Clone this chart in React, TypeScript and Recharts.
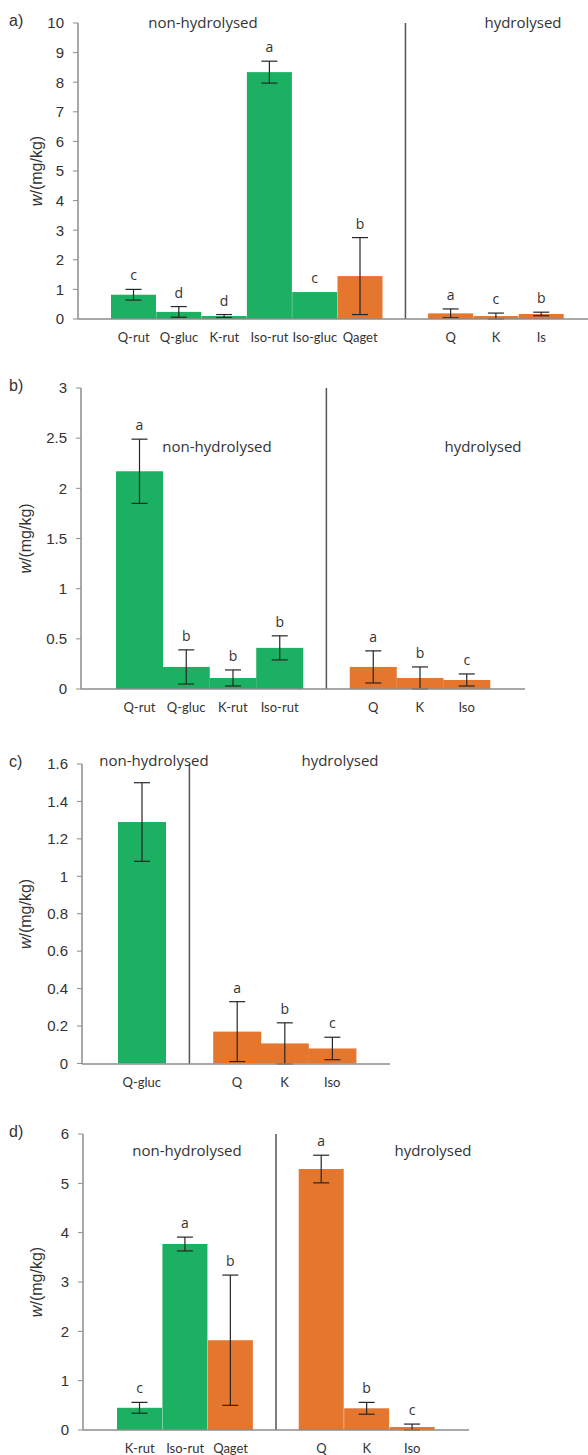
import React from 'react';
import { BarChart, Bar, XAxis, YAxis, ErrorBar, ReferenceLine } from 'recharts';

const GREEN = '#1bb062';
const ORANGE = '#e5762e';
const AXIS = '#8c8c8c';
const TEXT = '#333333';
const GAP = 'gap';

// aglycones are orange, glycosides green
const aglycones = ['Qaget', 'Q', 'K', 'Is', 'Iso'];

// a)
const catsA = ['Q-rut', 'Q-gluc', 'K-rut', 'Iso-rut', 'Iso-gluc', 'Qaget', GAP, 'Q', 'K', 'Is'];
const valsA = [0.82, 0.24, 0.1, 8.34, 0.91, 1.45, null, 0.19, 0.1, 0.17];
const errsA = [0.18, 0.18, 0.05, 0.37, null, 1.3, null, 0.15, 0.1, 0.06];
const lettersA = ['c', 'd', 'd', 'a', 'c', 'b', '', 'a', 'c', 'b'];
const ticksA = [0, 1, 2, 3, 4, 5, 6, 7, 8, 9, 10];

// b)
const catsB = ['Q-rut', 'Q-gluc', 'K-rut', 'Iso-rut', GAP, 'Q', 'K', 'Iso'];
const valsB = [2.17, 0.22, 0.11, 0.41, null, 0.22, 0.11, 0.09];
const errsB = [0.32, 0.17, 0.08, 0.12, null, 0.16, 0.11, 0.06];
const lettersB = ['a', 'b', 'b', 'b', '', 'a', 'b', 'c'];
const ticksB = [0, 0.5, 1, 1.5, 2, 2.5, 3];

// c)
const catsC = ['Q-gluc', GAP, 'Q', 'K', 'Iso'];
const valsC = [1.29, null, 0.17, 0.107, 0.08];
const errsC = [0.21, null, 0.16, 0.11, 0.06];
const lettersC = ['', '', 'a', 'b', 'c'];
const ticksC = [0, 0.2, 0.4, 0.6, 0.8, 1, 1.2, 1.4, 1.6];

// d)
const catsD = ['K-rut', 'Iso-rut', 'Qaget', GAP, 'Q', 'K', 'Iso'];
const valsD = [0.45, 3.77, 1.82, null, 5.29, 0.44, 0.06];
const errsD = [0.11, 0.14, 1.32, null, 0.28, 0.12, 0.06];
const lettersD = ['c', 'a', 'b', '', 'a', 'b', 'c'];
const ticksD = [0, 1, 2, 3, 4, 5, 6];

const build = (cats: string[], vals: (number | null)[], errs: (number | null)[], letters: string[]) =>
  cats.map((name, i) => ({ name, v: vals[i], e: errs[i], letter: letters[i] }));

const renderBar = (p: any) => {
  const { x, y, width, height, payload } = p;
  if (payload.v == null) return <g />;
  const fill = aglycones.includes(payload.name) ? ORANGE : GREEN;
  const perUnit = payload.v ? height / payload.v : 0;
  const top = y - (payload.e || 0) * perUnit;
  return (
    <g>
      <rect x={x} y={y} width={width} height={height} fill={fill} />
      {payload.letter ? (
        <text
          x={x + width / 2}
          y={top - 9}
          textAnchor="middle"
          fontSize={14}
          fontFamily="Open Sans"
          fill={TEXT}
        >
          {payload.letter}
        </text>
      ) : null}
    </g>
  );
};

type PanelProps = {
  tag: string;
  data: any[];
  ticks: number[];
  top: number;
  height: number;
  xHeight: number;
  marginTop: number;
  axisX: number;
  marginRight: number;
  padLeft: number;
  padRight: number;
  labelX: number;
  heads: { text: string; x: number; y: number }[];
};

const Panel = (p: PanelProps) => {
  const max = p.ticks[p.ticks.length - 1];
  const yLabel = (props: any) => {
    const vb = props.viewBox;
    const cy = vb.y + vb.height / 2;
    return (
      <text
        x={p.labelX}
        y={cy}
        transform={`rotate(-90 ${p.labelX} ${cy})`}
        textAnchor="middle"
        dominantBaseline="central"
        fontSize={16}
        fontFamily="Liberation Sans"
        fill={TEXT}
      >
        <tspan fontStyle="italic">w</tspan>/(mg/kg)
      </text>
    );
  };
  return (
    <div style={{ position: 'absolute', left: 0, top: p.top, width: 588, height: p.height }}>
      <BarChart
        width={588}
        height={p.height}
        data={p.data}
        margin={{ top: p.marginTop, right: p.marginRight, bottom: 0, left: 0 }}
        barCategoryGap={0}
        barGap={0}
      >
        <XAxis
          dataKey="name"
          interval={0}
          tickLine={false}
          tickSize={6}
          tickMargin={8}
          height={p.xHeight}
          padding={{ left: p.padLeft, right: p.padRight }}
          axisLine={{ stroke: AXIS, strokeWidth: 1.5 }}
          tick={{ fontSize: 13, fontFamily: 'Lato', fill: TEXT }}
          tickFormatter={(v: string) => (v === GAP ? '' : v)}
        />
        <YAxis
          width={p.axisX}
          domain={[0, max]}
          ticks={p.ticks}
          interval={0}
          tickSize={5}
          tickMargin={9}
          axisLine={{ stroke: AXIS, strokeWidth: 1.5 }}
          tickLine={{ stroke: AXIS }}
          tick={{ fontSize: 15, fontFamily: 'Liberation Sans', fill: TEXT }}
          label={{ content: yLabel }}
        />
        <ReferenceLine x={GAP} stroke="#555555" strokeWidth={1.5} />
        <Bar dataKey="v" isAnimationActive={false} shape={renderBar}>
          <ErrorBar dataKey="e" width={8} stroke="#262626" strokeWidth={1.2} direction="y" />
        </Bar>
      </BarChart>
      <div style={{ position: 'absolute', left: 9, top: p.marginTop - 11, fontSize: 16, fontFamily: 'Liberation Sans', color: TEXT }}>
        {p.tag}
      </div>
      {p.heads.map((h) => (
        <div
          key={h.text}
          style={{
            position: 'absolute',
            left: h.x - 100,
            width: 200,
            top: h.y - p.top - 11,
            textAlign: 'center',
            fontSize: 15,
            fontFamily: 'Open Sans',
            color: TEXT,
            lineHeight: '22px',
          }}
        >
          {h.text}
        </div>
      ))}
    </div>
  );
}

export default function App() {
  return (
    <div style={{ position: 'absolute', left: 0, top: 0, width: 588, height: 1455, background: '#fff', overflow: 'hidden' }}>
      <style>{'body{overflow:hidden}'}</style>
      <Panel
        tag="a)"
        data={build(catsA, valsA, errsA, lettersA)}
        ticks={ticksA}
        top={0}
        height={351}
        xHeight={32}
        marginTop={23}
        axisX={78}
        marginRight={0}
        padLeft={33}
        padRight={24}
        labelX={36}
        heads={[
          { text: 'non-hydrolysed', x: 203, y: 22 },
          { text: 'hydrolysed', x: 523, y: 22 },
        ]}
      />
      <Panel
        tag="b)"
        data={build(catsB, valsB, errsB, lettersB)}
        ticks={ticksB}
        top={370}
        height={351}
        xHeight={32}
        marginTop={18}
        axisX={81}
        marginRight={63}
        padLeft={35}
        padRight={35}
        labelX={25}
        heads={[
          { text: 'non-hydrolysed', x: 217, y: 446 },
          { text: 'hydrolysed', x: 483, y: 446 },
        ]}
      />
      <Panel
        tag="c)"
        data={build(catsC, valsC, errsC, lettersC)}
        ticks={ticksC}
        top={740}
        height={356}
        xHeight={32}
        marginTop={24}
        axisX={82}
        marginRight={198}
        padLeft={36}
        padRight={34}
        labelX={25}
        heads={[
          { text: 'non-hydrolysed', x: 154, y: 760 },
          { text: 'hydrolysed', x: 340, y: 760 },
        ]}
      />
      <Panel
        tag="d)"
        data={build(catsD, valsD, errsD, lettersD)}
        ticks={ticksD}
        top={1100}
        height={355}
        xHeight={25}
        marginTop={34}
        axisX={83}
        marginRight={119}
        padLeft={34}
        padRight={34}
        labelX={36}
        heads={[
          { text: 'non-hydrolysed', x: 187, y: 1150 },
          { text: 'hydrolysed', x: 433, y: 1150 },
        ]}
      />
    </div>
  );
}
